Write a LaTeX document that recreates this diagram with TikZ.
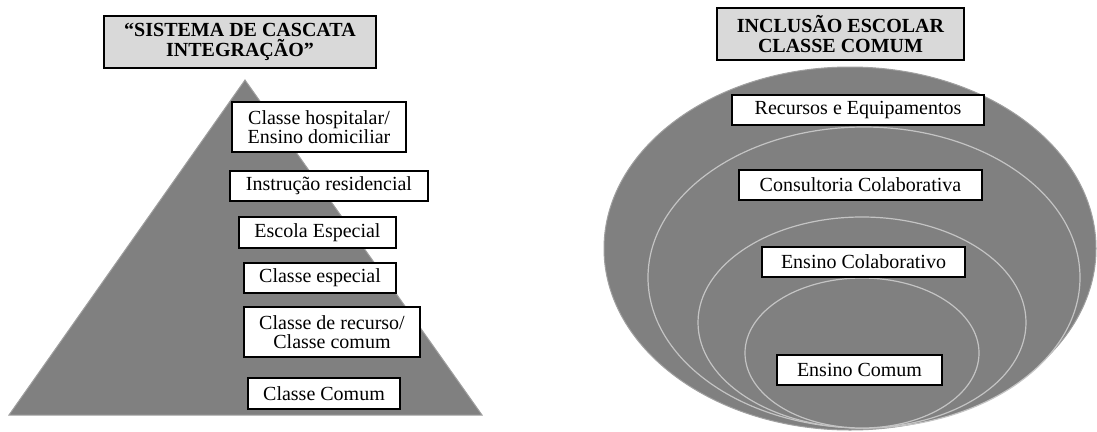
\documentclass[tikz,border=0pt]{standalone}
\usepackage{fontspec}
\setmainfont{Liberation Serif}
\usetikzlibrary{positioning}
\definecolor{slate}{HTML}{808080}
\definecolor{rim}{HTML}{A0A0A0}
\definecolor{ring}{HTML}{C4C4C4}
\definecolor{head}{HTML}{D9D9D9}
\tikzset{
  level/.style={draw=black, line width=2pt, fill=white, inner sep=0pt, align=center, font=\fontsize{20}{19}\selectfont},
  title/.style={draw=black, line width=2pt, fill=head, inner sep=0pt, align=center, font=\fontsize{20}{20}\selectfont\bfseries},
  zone/.style={fill=slate, draw=ring, line width=1.2pt},
}
\begin{document}
\begin{tikzpicture}[x=1pt, y=-1pt]
  \useasboundingbox (0,0) rectangle (1097,431);
  % cascade (left)
  \fill[slate, draw=rim, line width=1pt] (245,80) -- (482,415) -- (9,415) -- cycle;
  \node[title, minimum width=272pt, minimum height=52pt] (casc) at (240,42) {``SISTEMA DE CASCATA\\ INTEGRAÇÃO''};
  \node[level, minimum width=174pt, minimum height=50pt] (hosp) at (319,127) {Classe hospitalar/\\ Ensino domiciliar};
  \node[level, minimum width=198pt, minimum height=30pt] (resid) at (329,186) {Instrução residencial};
  \node[level, minimum width=157pt, minimum height=31pt] (escola) at (317.5,232.5) {Escola Especial};
  \node[level, minimum width=152pt, minimum height=30pt] (espec) at (320,278) {Classe especial};
  \node[level, minimum width=176pt, minimum height=50pt] (recur) at (332,332) {Classe de recurso/\\ Classe comum};
  \node[level, minimum width=152pt, minimum height=31pt] (comum) at (324,393.5) {Classe Comum};
  % inclusion (right)
  \fill[slate, draw=rim, line width=1pt] (850,248.5) ellipse [x radius=246, y radius=181.5];
  \draw[zone] (864,277.5) ellipse [x radius=216, y radius=150.5];
  \draw[zone] (862,322.5) ellipse [x radius=164, y radius=105.5];
  \draw[zone] (862,353) ellipse [x radius=117, y radius=75];
  \node[title, minimum width=247pt, minimum height=52pt] (incl) at (840.5,34) {INCLUSÃO ESCOLAR\\ CLASSE COMUM};
  \node[level, minimum width=252pt, minimum height=30pt] (recs) at (858,110) {Recursos e Equipamentos};
  \node[level, minimum width=243pt, minimum height=30pt] (cons) at (860.5,185) {Consultoria Colaborativa};
  \node[level, minimum width=203pt, minimum height=30pt] (ecol) at (863.5,262) {Ensino Colaborativo};
  \node[level, minimum width=165pt, minimum height=30pt] (ecom) at (859.5,370) {Ensino Comum};
\end{tikzpicture}
\end{document}
